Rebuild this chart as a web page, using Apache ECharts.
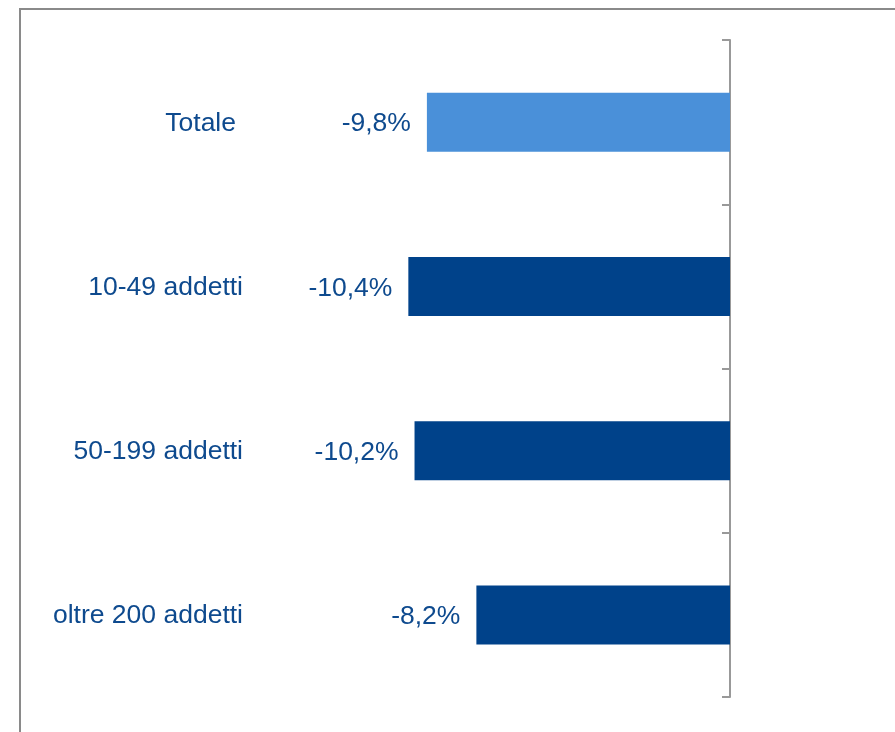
<!DOCTYPE html>
<html>
<head>
<meta charset="utf-8">
<script src="https://cdn.jsdelivr.net/npm/echarts@6/dist/echarts.min.js"></script>
<style>html,body{margin:0;padding:0;background:#fff}#c{width:895px;height:732px}</style>
</head>
<body>
<div id="c"></div>
<script>
const categories = ['Totale', '10-49 addetti', '50-199 addetti', 'oltre 200 addetti'];
const values = [-9.8, -10.4, -10.2, -8.2];
const barColors = ['#4A90D9', '#00428A', '#00428A', '#00428A'];

const chart = echarts.init(document.getElementById('c'));
const textColor = '#0E4A8E';
const ff = 'Liberation Sans, Arial, sans-serif';
chart.setOption({
  animation: false,
  graphic: [{
    type: 'rect',
    shape: { x: 20, y: 9, width: 1000, height: 1000 },
    style: { fill: 'none', stroke: '#8a8a8a', lineWidth: 2 },
    silent: true
  }],
  grid: { left: 297, right: 165, top: 40, bottom: 35 },
  xAxis: {
    type: 'value', min: -14, max: 0,
    show: false
  },
  yAxis: [{
    type: 'category', data: categories, inverse: true, position: 'left',
    axisLine: { show: false }, axisTick: { show: false },
    axisLabel: {
      margin: 54, fontSize: 26.5, color: textColor, fontFamily: ff, padding: [2, 0, 0, 0],
      formatter: function (v) { return v === 'Totale' ? '{t|' + v + '}' : v; },
      rich: { t: { fontSize: 26.5, color: textColor, fontFamily: ff, padding: [2, 7, 0, 0] } }
    }
  }, {
    type: 'category', data: categories, inverse: true, position: 'right',
    axisLine: { show: true, lineStyle: { color: '#999', width: 2 } },
    axisTick: { show: true, inside: true, length: 8, lineStyle: { color: '#999', width: 2 } },
    axisLabel: { show: false }
  }],
  series: [{
    type: 'bar',
    yAxisIndex: 0,
    barWidth: 59,
    data: values.map((v, i) => ({ value: v, itemStyle: { color: barColors[i] } })),
    label: {
      show: true, position: 'left', distance: 16, offset: [0, 2],
      fontSize: 26.5, color: textColor, fontFamily: ff,
      formatter: p => p.value.toFixed(1).replace('.', ',') + '%'
    }
  }]
});
</script>
</body>
</html>
